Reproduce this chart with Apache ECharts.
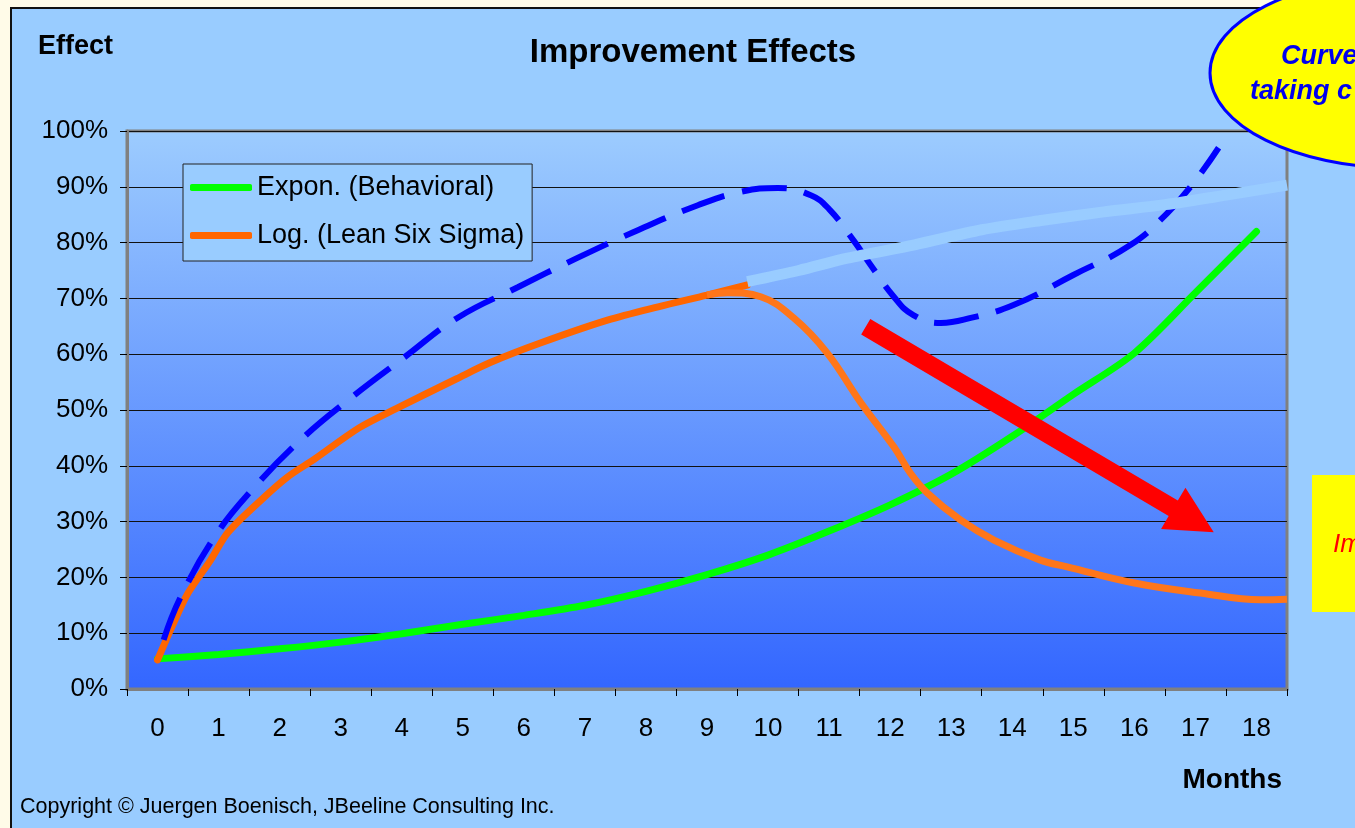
<!DOCTYPE html>
<html>
<head>
<meta charset="utf-8">
<script src="https://cdn.jsdelivr.net/npm/echarts@6/dist/echarts.min.js"></script>
<style>
  html, body { margin: 0; padding: 0; background: #FFFBE8; width: 1355px; height: 828px; overflow: hidden; }
  #frame { position: absolute; left: 10px; top: 7px; width: 1360px; height: 830px; background: #99CCFF; border-left: 2px solid #111; border-top: 2px solid #111; }
  #chart { position: absolute; left: 0; top: 0; width: 1355px; height: 828px; }
</style>
</head>
<body>
<div id="frame"></div>
<div id="chart"></div>
<script>
// ---- data ----
const months = ['0','1','2','3','4','5','6','7','8','9','10','11','12','13','14','15','16','17','18'];
const yTicks = [0, 10, 20, 30, 40, 50, 60, 70, 80, 90, 100];

const exponValues = [5.4, 6.2, 7.2, 8.4, 9.9, 11.6, 13.2, 15.0, 17.5, 20.5, 24.0, 28.3, 33.0, 38.5, 45.3, 52.8, 60.2, 71.0, 82.0];

const logX = [0, 0.25, 0.5, 0.87, 1.15, 1.7, 2.13, 2.57, 3.3, 3.9, 4.9, 5.45, 6.27, 7.37, 8.2, 9.0, 9.66];
const logY = [5.2, 11.5, 17.2, 23.1, 28.0, 33.9, 38.0, 41.2, 46.8, 50.2, 55.6, 58.5, 62.0, 66.1, 68.5, 70.6, 72.4];

const dropX = [9.0, 9.34, 9.88, 10.42, 10.97, 11.52, 12.06, 12.33, 12.61, 13.15, 13.7, 14.46, 14.9, 16.0, 17.08, 18.07, 18.5];
const dropY = [70.6, 71.0, 70.3, 66.5, 60.2, 51.3, 43.4, 38.7, 35.1, 30.3, 26.7, 23.1, 21.9, 19.0, 17.2, 16.0, 16.1];

const dashX = [0.1, 0.38, 0.95, 1.59, 2.34, 3.16, 4.05, 4.91, 5.9, 6.81, 7.8, 8.85, 9.55, 10.16, 10.7, 11.0, 11.4, 11.68, 12.06, 12.38, 12.83, 13.32, 14.02, 15.0, 15.94, 16.54, 16.97, 17.38];
const dashY = [8.8, 16.5, 27.5, 36.2, 44.6, 52.1, 59.5, 66.5, 72.0, 76.9, 81.9, 86.7, 89.1, 89.8, 88.5, 86.0, 80.4, 76.0, 70.3, 67.0, 65.6, 66.5, 68.8, 74.2, 79.6, 85.3, 90.7, 97.0];

const lightX = [9.66, 10.5, 11.3, 12.4, 13.5, 14.5, 15.5, 16.5, 17.5, 18.5];
const lightY = [73.0, 75.0, 77.2, 79.6, 82.3, 84.0, 85.5, 86.8, 88.5, 90.3];

const arrowFrom = [11.6, 64.9];
const arrowTo = [17.3, 28.1];

const seriesNames = ['Expon. (Behavioral)', 'Log. (Lean Six Sigma)'];

// ---- build ----
const FONT = '"Liberation Sans", Arial, Helvetica, sans-serif';
const pairs = (xs, ys) => xs.map((x, i) => [x, ys[i]]);

const chart = echarts.init(document.getElementById('chart'), null, { renderer: 'canvas' });

const option = {
  animation: false,
  backgroundColor: 'transparent',
  textStyle: { fontFamily: FONT },
  grid: {
    left: 127, right: 68, top: 131, bottom: 139,
    show: true,
    borderColor: '#808080',
    borderWidth: 3,
    backgroundColor: {
      type: 'linear', x: 0, y: 0, x2: 0, y2: 1,
      colorStops: [{ offset: 0, color: '#9DCCFE' }, { offset: 1, color: '#3366FF' }]
    }
  },
  legend: {
    data: seriesNames,
    orient: 'vertical',
    left: 183, top: 164,
    backgroundColor: '#99CCFF',
    borderColor: '#222',
    borderWidth: 1,
    padding: [10, 8, 12, 7],
    itemGap: 21,
    itemWidth: 62,
    itemHeight: 7,
    icon: 'roundRect',
    textStyle: { fontSize: 27, color: '#000', fontFamily: FONT },
    selectedMode: false
  },
  xAxis: [
    {
      type: 'category',
      data: months,
      boundaryGap: true,
      axisLine: { lineStyle: { color: '#808080', width: 3 } },
      axisTick: { show: true, length: 7, lineStyle: { color: '#000', width: 1 } },
      axisLabel: { fontSize: 26, color: '#000', margin: 27, fontFamily: FONT },
      splitLine: { show: false }
    },
    {
      type: 'value', min: -0.5, max: 18.5, show: false,
      axisLine: { show: false }, axisTick: { show: false },
      splitLine: { show: false }
    }
  ],
  yAxis: {
    type: 'value', min: yTicks[0], max: yTicks[yTicks.length - 1], interval: 10,
    axisLine: { show: true, onZero: false, lineStyle: { color: '#808080', width: 3 } },
    axisTick: { show: true, length: 7, lineStyle: { color: '#000', width: 1 } },
    axisLabel: { fontSize: 26, color: '#000', margin: 19, formatter: '{value}%', fontFamily: FONT },
    splitLine: { show: true, lineStyle: { color: '#111', width: 1 } }
  },
  series: [
    {
      name: seriesNames[0], type: 'line', xAxisIndex: 1,
      data: pairs(months.map(Number), exponValues),
      smooth: 0.3, showSymbol: false, symbol: 'none',
      itemStyle: { color: '#00FF00' },
      lineStyle: { color: '#00FF00', width: 7, cap: 'round' },
      z: 3
    },
    {
      name: seriesNames[1], type: 'line', xAxisIndex: 1,
      data: pairs(logX, logY),
      smooth: 0.3, showSymbol: false, symbol: 'none',
      itemStyle: { color: '#FF6600' },
      lineStyle: { color: '#FF6600', width: 7, cap: 'round' },
      z: 4
    },
    {
      name: 'decline', type: 'line', xAxisIndex: 1,
      data: pairs(dropX, dropY),
      smooth: 0.4, showSymbol: false, symbol: 'none',
      itemStyle: { color: '#FF761A' },
      lineStyle: { color: '#FF761A', width: 7 },
      z: 4
    },
    {
      name: 'target', type: 'line', xAxisIndex: 1,
      data: pairs(dashX, dashY),
      smooth: 0.45, showSymbol: false, symbol: 'none',
      itemStyle: { color: '#0000FF' },
      lineStyle: { color: '#0000FF', width: 6, type: [45, 18] },
      z: 5
    },
    {
      name: 'continued', type: 'line', xAxisIndex: 1,
      data: pairs(lightX, lightY),
      smooth: 0.3, showSymbol: false, symbol: 'none',
      itemStyle: { color: '#99CCFF' },
      lineStyle: { color: '#99CCFF', width: 11 },
      z: 6
    },
    {
      name: 'arrow', type: 'custom', xAxisIndex: 1,
      data: [[arrowFrom[0], arrowFrom[1], arrowTo[0], arrowTo[1]]],
      z: 7,
      renderItem: function (params, api) {
        const a = api.coord([api.value(0), api.value(1)]);
        const b = api.coord([api.value(2), api.value(3)]);
        const dx = b[0] - a[0], dy = b[1] - a[1];
        const L = Math.hypot(dx, dy);
        const ux = dx / L, uy = dy / L, px = -uy, py = ux;
        const sw = 9, hl = 47, hw = 24;
        const bx = b[0] - ux * hl, by = b[1] - uy * hl;
        const pts = [
          [a[0] + px * sw, a[1] + py * sw],
          [bx + px * sw, by + py * sw],
          [bx + px * hw, by + py * hw],
          [b[0], b[1]],
          [bx - px * hw, by - py * hw],
          [bx - px * sw, by - py * sw],
          [a[0] - px * sw, a[1] - py * sw]
        ];
        return { type: 'polygon', shape: { points: pts }, style: { fill: '#FF0000' } };
      }
    }
  ],
  graphic: [
    { type: 'text', x: 693, y: 53, z: 100, style: { text: 'Improvement Effects', font: 'bold 33px ' + FONT, fill: '#000', align: 'center', verticalAlign: 'middle' } },
    { type: 'text', x: 38, y: 47, z: 100, style: { text: 'Effect', font: 'bold 27px ' + FONT, fill: '#000', align: 'left', verticalAlign: 'middle' } },
    { type: 'text', x: 1282, y: 780, z: 100, style: { text: 'Months', font: 'bold 28px ' + FONT, fill: '#000', align: 'right', verticalAlign: 'middle' } },
    { type: 'text', x: 20, y: 807, z: 100, style: { text: 'Copyright \u00A9 Juergen Boenisch, JBeeline Consulting Inc.', font: '21.5px ' + FONT, fill: '#000', align: 'left', verticalAlign: 'middle' } },
    { type: 'ellipse', z: 100, shape: { cx: 1400, cy: 73, rx: 190, ry: 95 }, style: { fill: '#FFFF00', stroke: '#0000FF', lineWidth: 3 } },
    { type: 'text', x: 1281, y: 57, z: 101, style: { text: 'Curve', font: 'italic bold 27px ' + FONT, fill: '#0000EE', align: 'left', verticalAlign: 'middle' } },
    { type: 'text', x: 1250, y: 92, z: 101, style: { text: 'taking c', font: 'italic bold 27px ' + FONT, fill: '#0000EE', align: 'left', verticalAlign: 'middle' } },
    { type: 'rect', z: 100, shape: { x: 1312, y: 475, width: 80, height: 137 }, style: { fill: '#FFFF00' } },
    { type: 'text', x: 1333, y: 545, z: 101, style: { text: 'Im', font: 'italic 26px ' + FONT, fill: '#FF0000', align: 'left', verticalAlign: 'middle' } }
  ]
};

chart.setOption(option);
</script>
</body>
</html>
